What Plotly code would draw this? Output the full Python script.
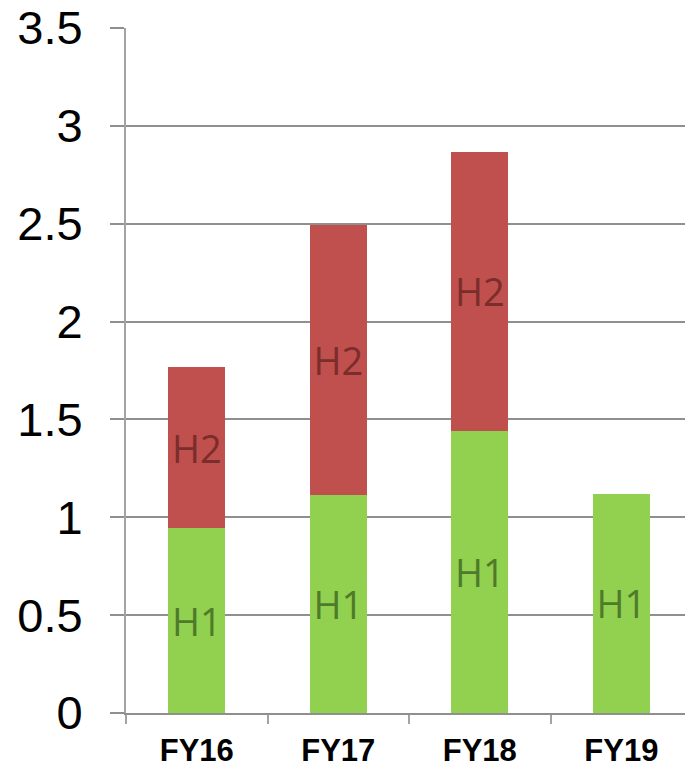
import plotly.graph_objects as go

# Fiscal years and half-year values
years = ["FY16", "FY17", "FY18", "FY19"]
h1_values = [0.943, 1.116, 1.441, 1.12]
h2_values = [0.824, 1.376, 1.427, None]

h1_labels = ["H1", "H1", "H1", "H1"]
h2_labels = ["H2", "H2", "H2", ""]

grid_color = "#8f8f8f"
axis_color = "#a3a3a3"
label_font = "Open Sans"

fig = go.Figure()
fig.add_trace(go.Bar(
    x=years, y=h1_values, name="H1",
    marker=dict(color="#92D050", line=dict(width=0)),
    text=h1_labels, textposition="inside", insidetextanchor="middle",
    textangle=0, textfont=dict(family=label_font, size=38, color="#4e7a2a"),
    hoverinfo="skip",
))
fig.add_trace(go.Bar(
    x=years, y=h2_values, name="H2",
    marker=dict(color="#C0504D", line=dict(width=0)),
    text=h2_labels, textposition="inside", insidetextanchor="middle",
    textangle=0, textfont=dict(family=label_font, size=38, color="#7b2d2b"),
    hoverinfo="skip",
))

fig.update_layout(
    width=685, height=768,
    margin=dict(l=126, r=0, t=28, b=53, pad=0),
    barmode="stack", bargap=0.6,
    plot_bgcolor="white", paper_bgcolor="white",
    showlegend=False,
    uniformtext=dict(minsize=38, mode="show"),
    font=dict(family="Liberation Sans, Arial", color="black"),
)
fig.update_xaxes(
    type="category", range=[-0.5, 3.45],
    showline=True, linecolor=grid_color, linewidth=2,
    ticks="outside", tickson="boundaries", ticklen=9, tickcolor=axis_color, tickwidth=2,
    tickfont=dict(family="Liberation Sans, Arial", size=31, color="black", weight="bold"),
    ticklabelstandoff=9,
    showgrid=False, zeroline=False,
)
fig.update_yaxes(
    range=[0, 3.5], dtick=0.5, tickformat="~g",
    showline=True, linecolor=axis_color, linewidth=2,
    showgrid=True, gridcolor=grid_color, gridwidth=2,
    ticks="outside", ticklen=14, tickcolor=grid_color, tickwidth=2,
    tickfont=dict(family="Liberation Sans, Arial", size=47, color="black"),
    ticklabelstandoff=18,
    zeroline=False,
)

fig.write_html("out.html")
